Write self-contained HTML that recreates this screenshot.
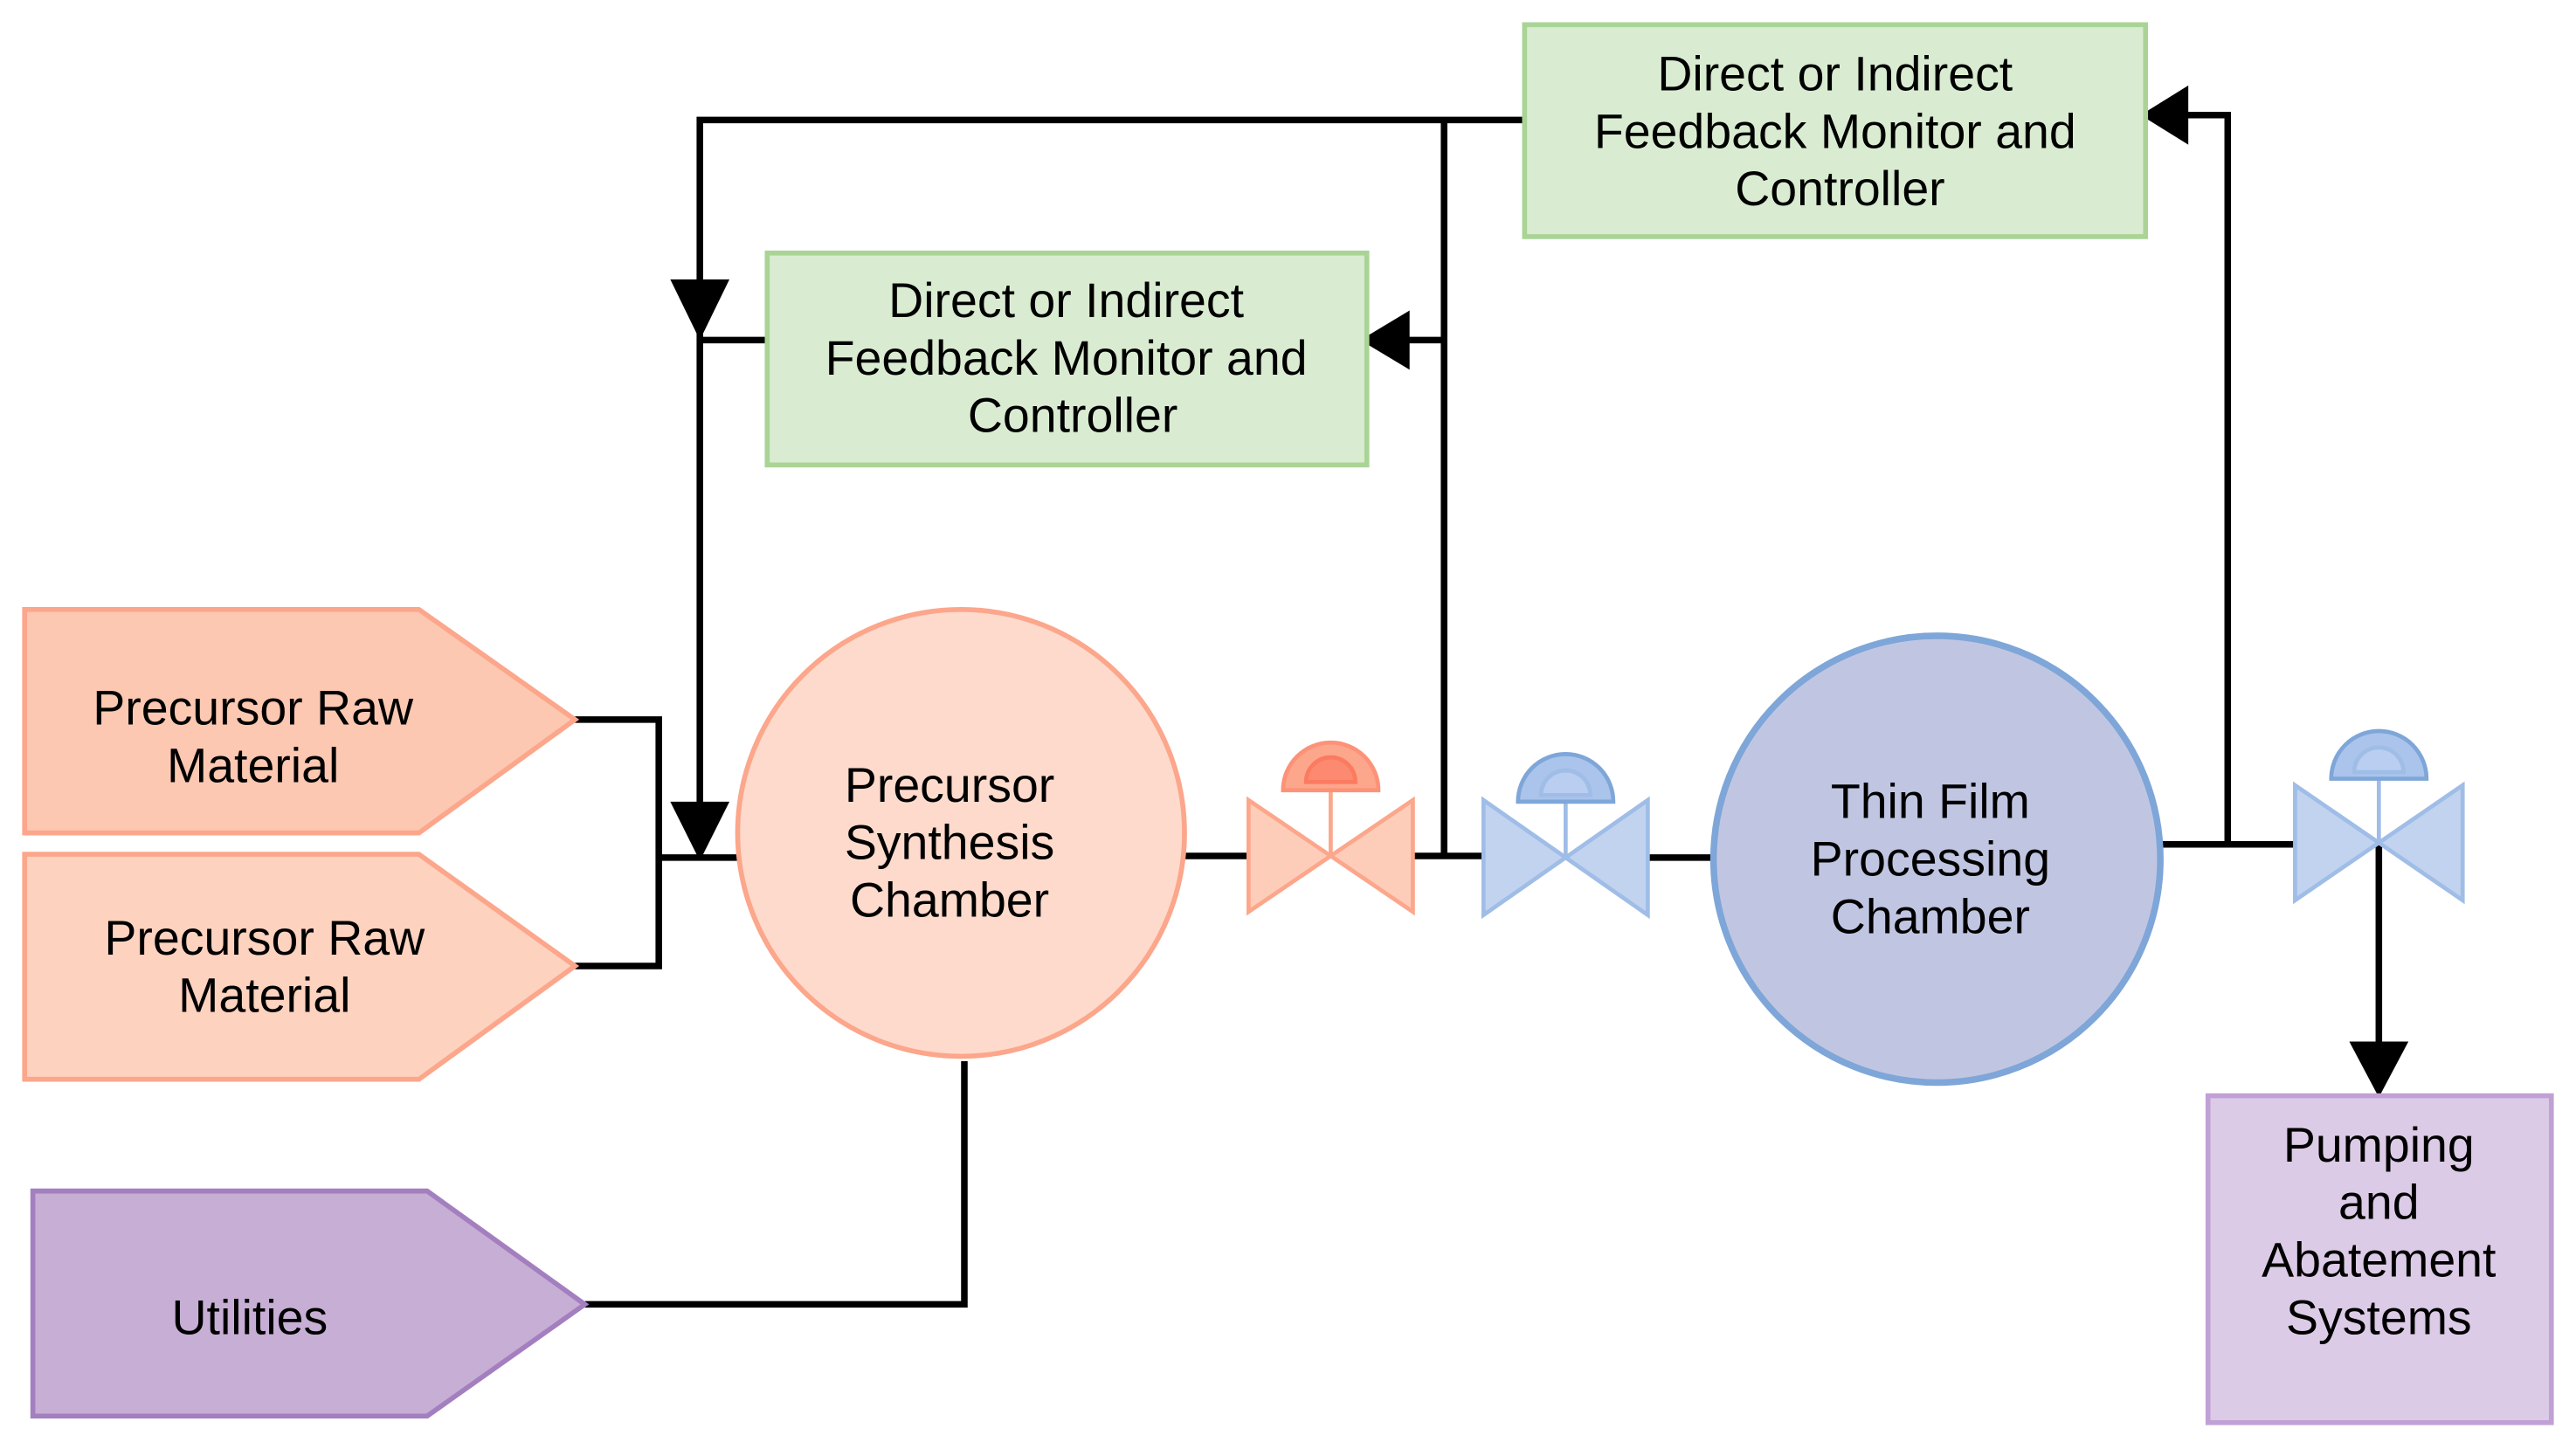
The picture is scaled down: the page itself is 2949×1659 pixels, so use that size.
<!DOCTYPE html>
<html><head><meta charset="utf-8"><style>html,body{margin:0;padding:0;background:#fff}svg{display:block}</style></head>
<body>
<svg width="2949" height="1659" viewBox="0 0 1568 882" xmlns="http://www.w3.org/2000/svg" font-family="Liberation Sans, sans-serif" font-size="29.5" text-anchor="middle">
<rect width="1568" height="882" fill="#fff"/>
<g stroke="#000" stroke-width="4" fill="none">
<polyline points="928,73 426,73 426,522"/>
<line x1="467" y1="207" x2="426" y2="207"/>
<line x1="879" y1="73" x2="879" y2="522"/>
<line x1="879" y1="207" x2="856" y2="207"/>
<polyline points="350,438 401,438 401,588 350,588"/>
<line x1="401" y1="522" x2="450" y2="522"/>
<polyline points="356,794 587,794 587,646"/>
<line x1="719" y1="521" x2="760" y2="521"/>
<line x1="860" y1="521" x2="903" y2="521"/>
<line x1="1003" y1="522" x2="1046" y2="522"/>
<polyline points="1313,514 1397,514"/>
<polyline points="1356,514 1356,70 1328,70"/>
<line x1="1448" y1="513" x2="1448" y2="638"/>
</g>
<g fill="#000">
<polygon points="408,170 444,170 426,207"/>
<polygon points="408,488 444,488 426,524"/>
<polygon points="858,189 858,225 828,207"/>
<polygon points="1332,52 1332,88 1303,70"/>
<polygon points="1430,634 1466,634 1448,668"/>
</g>
<rect x="928" y="15" width="378" height="129" fill="#d9ecd1" stroke="#a9d496" stroke-width="3"/>
<text x="1117" y="55">Direct or Indirect</text>
<text x="1117" y="90">Feedback Monitor and</text>
<text x="1120" y="125">Controller</text>
<rect x="467" y="154" width="365" height="129" fill="#d9ecd1" stroke="#a9d496" stroke-width="3"/>
<text x="649" y="193">Direct or Indirect</text>
<text x="649" y="228">Feedback Monitor and</text>
<text x="653" y="263">Controller</text>
<polygon points="15,371 255,371 350,438 255,507 15,507" fill="#fcc8b1" stroke="#fca68b" stroke-width="3"/>
<text x="154" y="441">Precursor Raw</text>
<text x="154" y="476">Material</text>
<polygon points="15,520 255,520 350,588 255,657 15,657" fill="#fdd2bf" stroke="#fca68b" stroke-width="3"/>
<text x="161" y="581">Precursor Raw</text>
<text x="161" y="616">Material</text>
<polygon points="20,725 260,725 356,794 260,862 20,862" fill="#c6aed4" stroke="#a47fbf" stroke-width="3"/>
<text x="152" y="812">Utilities</text>
<circle cx="585" cy="507" r="136" fill="#fddacb" stroke="#fca68b" stroke-width="3"/>
<text x="578" y="488">Precursor</text>
<text x="578" y="523">Synthesis</text>
<text x="578" y="558">Chamber</text>
<circle cx="1179" cy="523" r="136" fill="#c0c6e2" stroke="#7ea6d8" stroke-width="4"/>
<text x="1175" y="498">Thin Film</text>
<text x="1175" y="533">Processing</text>
<text x="1175" y="568">Chamber</text>
<g stroke="#fca68b" stroke-width="2.5" fill="#fdcdb9">
<polygon points="760,487 810,521 760,555"/>
<polygon points="860,487 810,521 860,555"/>
<line x1="810" y1="481" x2="810" y2="521"/>
<path d="M781,481 A29,29 0 0 1 839,481 Z" fill="#fca68b" stroke="#fc9278"/>
<path d="M795,476 A15,15 0 0 1 825,476 Z" fill="#fb8a70" stroke="#fb7a60"/>
</g>
<g stroke="#9fbde6" stroke-width="2.5" fill="#c1d3ef">
<polygon points="903,487 953,522 903,557"/>
<polygon points="1003,487 953,522 1003,557"/>
<line x1="953" y1="488" x2="953" y2="522"/>
<path d="M924,488 A29,29 0 0 1 982,488 Z" fill="#aac4ec" stroke="#7ea6d8"/>
<path d="M938,484 A15,15 0 0 1 968,484 Z" fill="#b9cef0" stroke="#9fbde6"/>
</g>
<g stroke="#9fbde6" stroke-width="2.5" fill="#c1d3ef">
<polygon points="1397,478 1448,513 1397,548"/>
<polygon points="1499,478 1448,513 1499,548"/>
<line x1="1448" y1="474" x2="1448" y2="513"/>
<path d="M1419,474 A29,29 0 0 1 1477,474 Z" fill="#aac4ec" stroke="#7ea6d8"/>
<path d="M1433,470 A15,15 0 0 1 1463,470 Z" fill="#b9cef0" stroke="#9fbde6"/>
</g>
<rect x="1344" y="667" width="209" height="199" fill="#dccbe6" stroke="#c1a1d5" stroke-width="3"/>
<text x="1448" y="707">Pumping</text>
<text x="1448" y="742">and</text>
<text x="1448" y="777">Abatement</text>
<text x="1448" y="812">Systems</text>
</svg>
</body></html>
